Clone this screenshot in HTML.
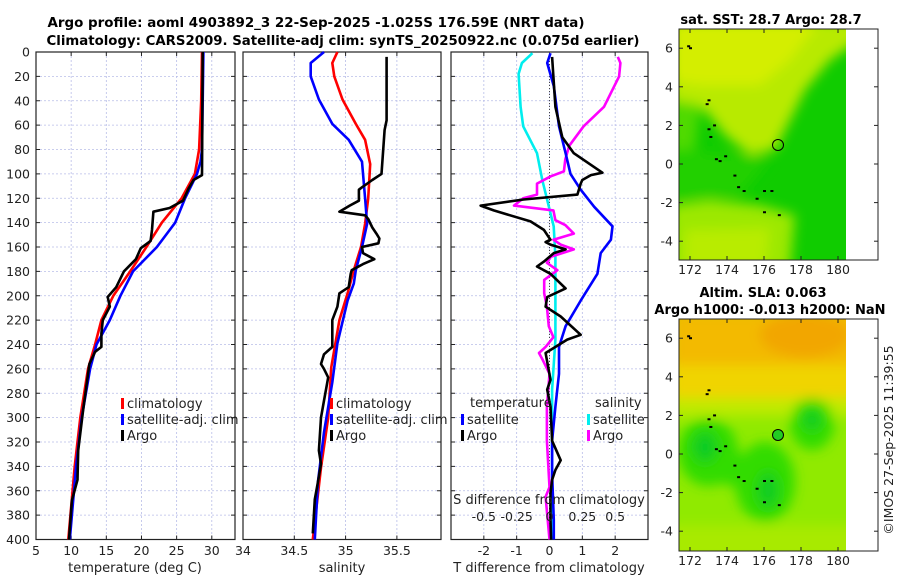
<!DOCTYPE html>
<html><head><meta charset="utf-8"><style>
body{margin:0;background:#fff;width:900px;height:580px;overflow:hidden}
svg text{font-family:"DejaVu Sans","Liberation Sans",sans-serif;fill:#222}
</style></head><body>
<svg id="c" width="900" height="580" viewBox="0 0 900 580" xmlns="http://www.w3.org/2000/svg">
<defs>
<filter id="bl" x="-20%" y="-20%" width="140%" height="140%"><feGaussianBlur stdDeviation="6"/></filter>
<clipPath id="m1c"><rect x="679" y="29" width="167" height="231"/></clipPath>
<clipPath id="m2c"><rect x="679" y="319" width="167" height="232"/></clipPath>
</defs>
<text x="316" y="27" text-anchor="middle" font-weight="bold" font-size="13" textLength="537" lengthAdjust="spacingAndGlyphs" style="fill:#000">Argo profile: aoml 4903892_3 22-Sep-2025 -1.025S 176.59E (NRT data)</text>
<text x="343" y="45" text-anchor="middle" font-weight="bold" font-size="13" textLength="593" lengthAdjust="spacingAndGlyphs" style="fill:#000">Climatology: CARS2009. Satellite-adj clim: synTS_20250922.nc (0.075d earlier)</text>

<!-- Map 1 -->
<g>
<g clip-path="url(#m1c)">
<rect x="679" y="29" width="167" height="231" fill="#10cc00"/>
<g filter="url(#bl)">
<polygon points="670,20 860,20 860,40 830,60 805,90 785,130 775,150 750,155 725,135 705,110 670,105" fill="#b8ea00"/>
<polygon points="670,20 820,20 790,60 760,85 700,85 670,80" fill="#d4ee00"/>
<polygon points="670,100 700,105 695,150 670,150" fill="#50da00"/>
<polygon points="670,205 710,200 760,205 795,215 790,270 670,270" fill="#9ce800"/>
<polygon points="685,230 770,228 765,270 685,270" fill="#b8ec00"/>
<polygon points="670,150 770,158 740,195 670,200" fill="#22d000"/>
</g>
</g>
<rect x="679" y="29" width="199" height="231" fill="none" stroke="#222" stroke-width="1"/>
<g id="m1coast" fill="#000"></g>
<circle cx="778" cy="145" r="5.5" fill="none" stroke="#000" stroke-width="1"/>
<text x="771" y="24" text-anchor="middle" font-weight="bold" font-size="13" style="fill:#000">sat. SST: 28.7 Argo: 28.7</text>
</g>

<!-- Map 2 -->
<g>
<g clip-path="url(#m2c)">
<rect x="679" y="319" width="167" height="232" fill="#90ea00"/>
<g filter="url(#bl)">
<rect x="670" y="310" width="190" height="95" fill="#f0d400"/>
<rect x="670" y="310" width="190" height="55" fill="#f3ba00"/>
<ellipse cx="805" cy="335" rx="45" ry="22" fill="#f2a600"/>
<rect x="670" y="398" width="190" height="18" fill="#c0ea00"/>
<ellipse cx="708" cy="452" rx="30" ry="34" fill="#30dc00"/>
<ellipse cx="765" cy="482" rx="30" ry="40" fill="#30dc00"/>
<ellipse cx="740" cy="470" rx="35" ry="16" fill="#30dc00"/>
<ellipse cx="812" cy="424" rx="22" ry="26" fill="#30dc00"/>
<ellipse cx="705" cy="447" rx="12" ry="15" fill="#10cc20"/>
<ellipse cx="768" cy="490" rx="10" ry="18" fill="#10cc20"/>
<ellipse cx="812" cy="420" rx="9" ry="10" fill="#10cc20"/>
<rect x="670" y="525" width="190" height="35" fill="#a8ea00"/>
</g>
</g>
<rect x="679" y="319" width="199" height="232" fill="none" stroke="#222" stroke-width="1"/>
<g id="m2coast" fill="#000"></g>
<circle cx="778" cy="435" r="5.5" fill="#22cc22" stroke="#000" stroke-width="1"/>
<text x="763" y="297" text-anchor="middle" font-weight="bold" font-size="13" style="fill:#000">Altim. SLA: 0.063</text>
<text x="770" y="314" text-anchor="middle" font-weight="bold" font-size="13" style="fill:#000">Argo h1000: -0.013 h2000: NaN</text>
</g>
<text transform="translate(893,440) rotate(-90)" text-anchor="middle" font-size="12.5">©IMOS 27-Sep-2025 11:39:55</text>
<g id="plots"></g>
</svg>
<script>
// ---- data ----
const depthsTclim = [0,40,80,100,120,140,160,180,200,220,240,260,300,340,400];
const tempClim    = [28.6,28.5,28.2,27.6,25.7,22.9,20.7,18.4,16.0,14.3,13.4,12.4,11.3,10.5,9.6];
const depthsTsat  = [0,80,90,100,120,140,160,180,200,220,240,260,300,340,400];
const tempSat     = [28.8,28.6,28.4,27.9,26.2,24.8,22.2,18.8,17.0,15.5,13.6,12.7,11.5,10.7,9.8];
const depthsTargo = [0,101,105,112,122,128,131,146,155,161,170,180,193,201,209,220,231,242,246,256,294,327,351,368,400];
const tempArgo    = [28.7,28.6,27.4,26.7,25.9,24.0,21.7,21.5,21.3,19.9,19.2,17.5,16.4,15.2,15.5,14.5,14.3,14.3,13.4,12.6,11.7,11.0,10.9,10.1,9.7];

const depthsSclim = [0,9,20,39,59,72,92,120,141,160,179,198,220,259,300,341,400];
const salClim     = [34.92,34.87,34.89,34.97,35.10,35.19,35.24,35.22,35.19,35.15,35.08,35.02,34.94,34.86,34.83,34.76,34.68];
const depthsSsat  = [0,9,20,39,59,72,90,120,141,160,179,190,204,239,271,312,353,400];
const salSat      = [34.79,34.66,34.66,34.74,34.87,35.03,35.16,35.19,35.21,35.16,35.10,35.08,35.02,34.92,34.87,34.79,34.73,34.70];
const depthsSargo = [4,56,64,100,105,111,113,122,126,131,134,137,144,149,153,157,160,165,170,174,179,182,193,198,209,220,242,248,256,260,267,286,300,327,338,353,367,395];
const salArgo     = [35.40,35.40,35.38,35.35,35.26,35.16,35.13,35.13,35.04,34.94,35.19,35.22,35.26,35.30,35.33,35.32,35.16,35.17,35.28,35.17,35.06,35.05,35.03,34.94,34.92,34.87,34.87,34.79,34.76,34.79,34.83,34.79,34.76,34.74,34.76,34.73,34.70,34.68];

const depthsDTsat = [1,9,28,61,83,100,113,127,143,154,165,182,204,225,242,264,291,319,346,384,400];
const dTsat       = [0.03,-0.07,0.13,0.29,0.49,0.64,0.95,1.36,1.92,1.87,1.56,1.46,0.95,0.49,0.29,0.29,0.18,0.08,0.08,0.13,0.13];
const depthsDTargo= [4,45,70,83,99,101,105,108,117,121,126,130,139,146,152,154,156,158,162,165,172,176,182,194,201,209,217,232,236,247,269,277,291,319,335,343,351,362,384,400];
const dTargo      = [0.08,0.18,0.39,0.74,1.61,1.26,1.0,0.95,0.85,-0.79,-2.1,-1.7,-0.58,-0.17,-0.02,0.03,-0.12,0.03,0.49,0.13,-0.17,-0.38,0.03,0.49,-0.07,-0.12,0.34,0.95,0.54,-0.12,0.03,-0.07,0.03,0.08,0.34,0.18,0.08,0.03,0.03,0.05];
const depthsDSsat = [1,9,18,45,61,83,105,121,143,168,193,236,277,320,400];
const dSsat       = [-0.13,-0.21,-0.235,-0.22,-0.20,-0.095,-0.055,-0.018,0.032,0.045,0.045,0.045,0.02,0.02,0.02];
const depthsDSargo= [4,9,20,45,61,77,88,98,102,108,117,120,126,130,138,142,149,154,158,162,168,173,179,187,198,209,225,234,242,247,253,264,291,319,357,365,400];
const dSargo      = [0.52,0.54,0.53,0.415,0.26,0.15,0.12,0.11,0.01,-0.095,-0.095,-0.2,-0.27,0.03,0.045,0.12,0.185,0.03,0.085,0.185,0.01,-0.02,0.06,-0.04,-0.04,-0.02,-0.005,0.03,-0.03,-0.08,-0.05,0,-0.02,-0.02,0,-0.03,0];

const depthTicks = [0,20,40,60,80,100,120,140,160,180,200,220,240,260,280,300,320,340,360,380,400];
const tTicks = [5,10,15,20,25,30];
const sTicks = [34,34.5,35,35.5];
const dTTicks = [-2,-1,0,1,2];
const dTGrid = [-3,-2,-1,0,1,2,3];
const dSTicks = [-0.5,-0.25,0,0.25,0.5];
const dSLabels = ["-0.5","-0.25","0","0.25","0.5"];
const latTicks = [6,4,2,0,-2,-4];
const lonTicks = [172,174,176,178,180];

// ---- axes ----
const Y0=52, Y1=539.5;
function yD(d){return Y0+(d/400)*(Y1-Y0);}
const P1={x0:36,x1:235,lo:5,hi:33.3};
const P2={x0:243,x1:441,lo:34,hi:35.93};
const P3={x0:451,x1:648,lo:-3,hi:3};
function xP(p,v){return p.x0+(v-p.lo)/(p.hi-p.lo)*(p.x1-p.x0);}

const NS="http://www.w3.org/2000/svg";
const root=document.getElementById('plots');
function el(tag,attrs,parent){const e=document.createElementNS(NS,tag);for(const k in attrs)e.setAttribute(k,attrs[k]);(parent||root).appendChild(e);return e;}

function panel(p,name,xticks,xlabels,gridX){
  const g=el('g',{});
  
  
  const w=p.x1-p.x0;
  (gridX||xticks).forEach(v=>{const x=xP(p,v);
    const l=el('line',{x1:x,x2:x,y1:Y0,y2:Y1,stroke:'#b8bde8','stroke-width':0.8,'stroke-dasharray':'2,2'},g);
    
    });
  depthTicks.forEach(d=>{const y=yD(d);
    const l=el('line',{x1:p.x0,x2:p.x1,y1:y,y2:y,stroke:'#b8bde8','stroke-width':0.8,'stroke-dasharray':'2,2'},g);
    
    
    el('line',{x1:p.x0,x2:p.x0+4,y1:y,y2:y,stroke:'#222'},g);
    el('line',{x1:p.x1-4,x2:p.x1,y1:y,y2:y,stroke:'#222'},g);});
  xticks.forEach((v,i)=>{const x=xP(p,v);
    el('line',{x1:x,x2:x,y1:Y1,y2:Y1-4,stroke:'#222'},g);
    el('line',{x1:x,x2:x,y1:Y0,y2:Y0+4,stroke:'#222'},g);
    if(xlabels){const t=el('text',{x:x,y:555,'text-anchor':'middle','font-size':12.5},g);t.textContent=xlabels[i];
      
      }});
  const b=el('rect',{x:p.x0,y:Y0,width:w,height:Y1-Y0,fill:'none',stroke:'#222','stroke-width':1.2},g);
  
  
  return g;
}
function line(p,ds,vs,color,name,scale){
  const pts=ds.map((d,i)=>xP(p,vs[i]*(scale||1)).toFixed(1)+','+yD(d).toFixed(1)).join(' ');
  const l=el('polyline',{points:pts,fill:'none',stroke:color,'stroke-width':2.6,'stroke-linejoin':'round'});
  
  
}

const g1=panel(P1,'temperature-panel',tTicks,tTicks.map(String));
depthTicks.forEach(d=>{const t=el('text',{x:30,y:yD(d)+4.5,'text-anchor':'end','font-size':12.5},g1);t.textContent=d;
  
  });
const g2=panel(P2,'salinity-panel',sTicks,sTicks.map(String));
const g3=panel(P3,'difference-panel',dTTicks,dTTicks.map(String),dTGrid);
const zl=el('line',{x1:xP(P3,0),x2:xP(P3,0),y1:Y0,y2:Y1,stroke:'#444','stroke-width':1,'stroke-dasharray':'1,2'});



line(P1,depthsTclim,tempClim,'#ff0000','temp-climatology-line');
line(P1,depthsTsat,tempSat,'#0000ff','temp-satellite-line');
line(P1,depthsTargo,tempArgo,'#000000','temp-argo-line');
line(P2,depthsSclim,salClim,'#ff0000','sal-climatology-line');
line(P2,depthsSsat,salSat,'#0000ff','sal-satellite-line');
line(P2,depthsSargo,salArgo,'#000000','sal-argo-line');
line(P3,depthsDSsat,dSsat,'#00eeee','sdiff-satellite-line',4);
line(P3,depthsDSargo,dSargo,'#ff00ff','sdiff-argo-line',4);
line(P3,depthsDTsat,dTsat,'#0000ff','tdiff-satellite-line');
line(P3,depthsDTargo,dTargo,'#000000','tdiff-argo-line');

function txt(x,y,s,name,opts){const t=el('text',Object.assign({x:x,y:y,'font-size':12.5},opts||{}));t.textContent=s;
  
  return t;}
function legItem(x,y,color,label,name){
  const r=el('rect',{x:x,y:y-10,width:3,height:11,fill:color});
  
  
  txt(x+6,y,label,name+'-label',{'font-size':13});}
legItem(121,408,'#ff0000','climatology','legend-climatology');
legItem(121,424,'#0000ff','satellite-adj. clim','legend-satellite');
legItem(121,440,'#000000','Argo','legend-argo');
legItem(330,408,'#ff0000','climatology','legend2-climatology');
legItem(330,424,'#0000ff','satellite-adj. clim','legend2-satellite');
legItem(330,440,'#000000','Argo','legend2-argo');
txt(470,407,'temperature','legend-temperature-heading',{'font-size':13});
legItem(461,424,'#0000ff','satellite','legend-tdiff-satellite');
legItem(461,440,'#000000','Argo','legend-tdiff-argo');
txt(595,407,'salinity','legend-salinity-heading',{'font-size':13});
legItem(587,424,'#00eeee','satellite','legend-sdiff-satellite');
legItem(587,440,'#ff00ff','Argo','legend-sdiff-argo');

txt(549,504,'S difference from climatology','s-diff-axis-title',{'text-anchor':'middle','font-size':13});
dSTicks.forEach((v,i)=>txt(xP(P3,v*4),521,dSLabels[i],'s-diff-tick-label',{'text-anchor':'middle'}));
txt(135,572,'temperature (deg C)','temp-axis-title',{'text-anchor':'middle','font-size':13});
txt(342,572,'salinity','sal-axis-title',{'text-anchor':'middle','font-size':13});
txt(549,572,'T difference from climatology','t-diff-axis-title',{'text-anchor':'middle','font-size':13});

// map ticks
function mapAxes(top,bot,lat0y,name){
  latTicks.forEach(v=>{const y=lat0y-v*19.3;
    txt(673,y+4.5,String(v),name+'-lat-label',{'text-anchor':'end'});
    el('line',{x1:679,x2:683,y1:y,y2:y,stroke:'#222'});
    el('line',{x1:874,x2:878,y1:y,y2:y,stroke:'#222'});});
  lonTicks.forEach(v=>{const x=690+(v-172)*18.5;
    txt(x,bot+14,String(v),name+'-lon-label',{'text-anchor':'middle'});
    el('line',{x1:x,x2:x,y1:bot,y2:bot-4,stroke:'#222'});
    el('line',{x1:x,x2:x,y1:top,y2:top+4,stroke:'#222'});});
}
mapAxes(29,260,164,'sst-map');
mapAxes(319,551,454,'sla-map');

// coastline bits
const coastLon=[171.9,172.0,172.9,173.0,173.0,173.1,173.3,173.4,173.6,173.9,174.4,174.6,174.9,175.6,176.0,176.4,176.0,176.8];
const coastLat=[6.1,6.0,3.1,3.3,1.8,1.4,2.0,0.25,0.15,0.4,-0.6,-1.2,-1.4,-1.8,-1.4,-1.4,-2.5,-2.65];
[[document.getElementById('m1coast'),164],[document.getElementById('m2coast'),454]].forEach(([g,l0])=>{
  coastLon.forEach((lo,i)=>{const r=el('rect',{x:690+(lo-172)*18.5-1,y:l0-coastLat[i]*19.3-1,width:3,height:2},g);
    
    });
});
</script>
</body></html>
